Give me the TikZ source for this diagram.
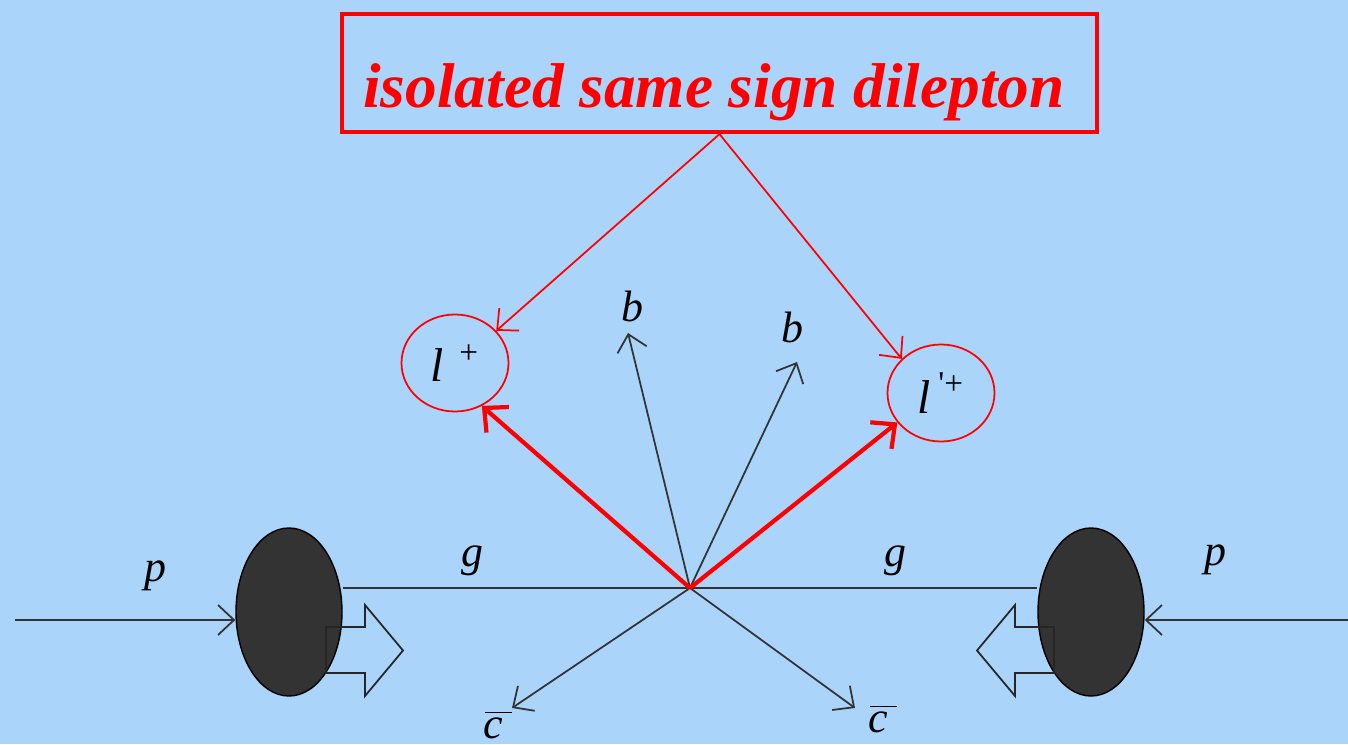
\documentclass[tikz,border=0pt]{standalone}
\usepackage{fontspec}
\setmainfont{Liberation Serif}
\usetikzlibrary{arrows.meta,positioning,shapes.geometric}
\definecolor{slideblue}{RGB}{171,212,251}
\definecolor{blobgray}{RGB}{51,51,51}
\tikzset{
  thinarr/.style={-{Straight Barb[length=1.6mm,width=3mm]}, line width=0.5pt, draw=blobgray},
  redarr/.style={-{Straight Barb[length=1.6mm,width=3mm]}, line width=0.5pt, draw=red},
  boldarr/.style={-{Straight Barb[length=1.8mm,width=3.4mm]}, line width=1.2pt, draw=red},
  lepton/.style={ellipse, draw=red, line width=0.5pt, minimum width=1.07cm, minimum height=0.97cm, inner sep=0pt, font=\fontsize{13.5}{16}\selectfont\itshape},
  blob/.style={ellipse, draw=black, fill=blobgray, minimum width=1.06cm, minimum height=1.68cm, inner sep=0pt},
  lbl/.style={font=\fontsize{12.5}{15}\selectfont\itshape, inner sep=1pt},
}

\begin{document}
\begin{tikzpicture}[
  blockarr/.style={draw=black!85, line width=0.5pt},
  titlebox/.style={draw=red, line width=1.2pt, minimum width=7.55cm, minimum height=1.18cm},
]
  \fill[slideblue] (0,0) rectangle (13.48,7.44);
  \useasboundingbox (0,0) rectangle (13.48,7.44);

  % title
  \node[titlebox] (title) at (7.195,6.71) {};
  \node[anchor=base, text=red, inner sep=0pt, font=\fontsize{18}{21}\selectfont\bfseries\itshape] (titletext) at (7.14,6.36) {isolated same sign dilepton};

  % leptons and proton blobs
  \node[lepton] (lp) at (4.55,3.81) {l\,\,\textsuperscript{\upshape +}};
  \node[lepton] (lpp) at (9.41,3.51) {l\,\textsuperscript{\upshape\textquotesingle+}};
  \node[blob] (pl) at (2.89,1.32) {};
  \node[blob] (pr) at (10.91,1.32) {};
  \coordinate (vtx) at (6.90,1.56);

  % gluon line
  \draw[line width=0.5pt, draw=blobgray] (vtx -| pl.east) -- (vtx -| pr.west);

  % jets
  \coordinate (b1tip) at (6.28,4.11);
  \coordinate (b2tip) at (7.97,3.82);
  \coordinate (c1tip) at (5.12,0.36);
  \coordinate (c2tip) at (8.55,0.36);
  \foreach \t in {b1tip,b2tip,c1tip,c2tip}
    \draw[thinarr] (vtx) -- (\t);
  \node[lbl] (b1) at (6.32,4.38) {b};
  \node[lbl] (b2) at (7.92,4.17) {b};
  \node[lbl, align=center] (c1) at (4.93,0.19) {\hspace{3pt}\rule{7.7pt}{0.55pt}\\[-8pt]c};
  \node[lbl, align=center] (c2) at (8.78,0.25) {\hspace{3pt}\rule{7.7pt}{0.55pt}\\[-8pt]c};

  % leptons
  \draw[redarr] (title.south) -- (lp.38);
  \draw[redarr] (title.south) -- (lpp.139);
  \draw[boldarr] (vtx) -- (lp.-58);
  \draw[boldarr] (vtx) -- (lpp.214);

  % incoming protons
  \coordinate (inl) at (0.15,1.24);
  \coordinate (inr) at (13.48,1.24);
  \draw[thinarr] (inl) -- (inl -| pl.west);
  \draw[thinarr] (inr) -- (inr -| pr.east);
  \node[lbl] (pleft) at (1.55,1.68) {p};
  \node[lbl] (pright) at (12.15,1.84) {p};
  \node[lbl] (gleft) at (4.72,1.83) {g};
  \node[lbl] (gright) at (8.95,1.83) {g};

  % hollow block arrows
  \foreach \s in {1,-1}
    \draw[blockarr, xshift=6.9cm, xscale=\s] (-3.64,1.17) -- (-3.25,1.17) -- (-3.25,1.39) -- (-2.87,0.935) -- (-3.25,0.48) -- (-3.25,0.71) -- (-3.64,0.71) -- cycle;
\end{tikzpicture}
\end{document}
